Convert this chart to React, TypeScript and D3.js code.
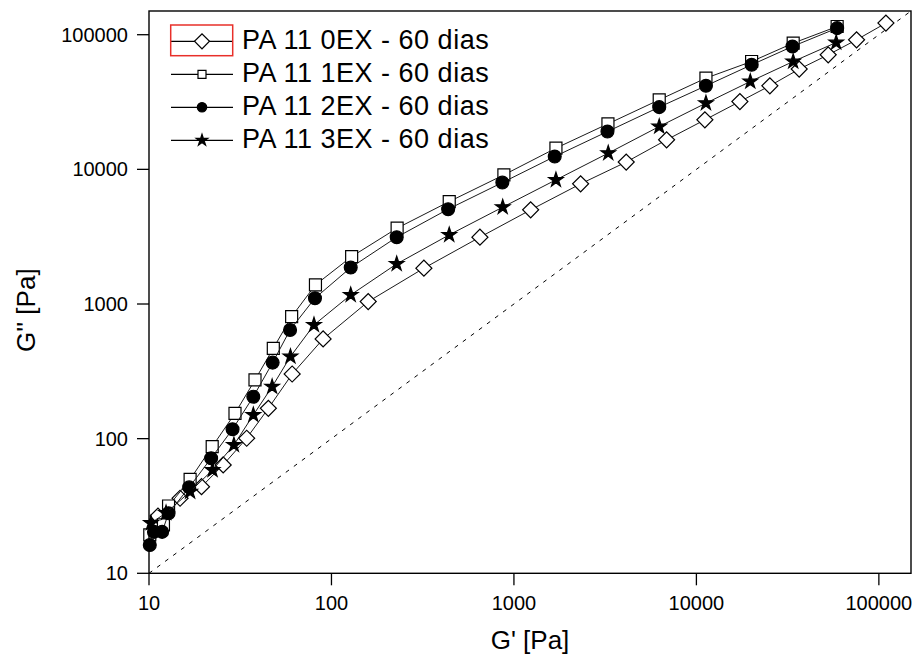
import React from 'react';
import * as d3 from 'd3';

const tickValues = [10, 100, 1000, 10000, 100000];
const tickLabels = ['10', '100', '1000', '10000', '100000'];
const seriesNames = ['PA 11 0EX - 60 dias', 'PA 11 1EX - 60 dias', 'PA 11 2EX - 60 dias', 'PA 11 3EX - 60 dias'];

// PA 11 0EX (open diamonds)
const gp0 = [11.2, 14.8, 19.4, 25.5, 34.3, 45.1, 60.9, 90.0, 159, 321, 651, 1235, 2320, 4124, 6866, 11130, 17310, 25270, 36590, 52760, 75470, 109300];
const gpp0 = [26.6, 36.1, 44.0, 63.8, 100.7, 168, 302, 550, 1042, 1845, 3135, 5003, 7805, 11330, 16570, 23320, 31890, 41730, 55520, 70900, 91650, 122000];
// PA 11 1EX (open squares)
const gp1 = [10.1, 12.0, 12.8, 16.8, 22.2, 29.6, 38.1, 48.0, 60.5, 81.7, 129, 229, 442, 881, 1699, 3275, 6255, 11280, 20070, 33920, 59070];
const gpp1 = [19.3, 22.9, 31.6, 49.9, 87.2, 154, 273, 469, 806, 1387, 2250, 3658, 5765, 9100, 14370, 21780, 32840, 47600, 63230, 86600, 115100];
// PA 11 2EX (filled circles)
const gp2 = [10.1, 10.65, 11.8, 12.8, 16.6, 21.9, 28.7, 37.3, 47.6, 59.3, 81.2, 127.5, 227.8, 436, 864, 1673, 3255, 6257, 11280, 20070, 33600, 59070];
const gpp2 = [16.2, 20.3, 20.3, 27.9, 43.5, 71.5, 117.5, 205, 367, 642, 1105, 1864, 3135, 5063, 7977, 12450, 19090, 28980, 41730, 59760, 81750, 111900];
// PA 11 3EX (filled stars)
const gp3 = [10.25, 12.4, 16.8, 22.3, 29.2, 37.3, 47.3, 59.6, 80.2, 127.5, 227.8, 442, 868, 1699, 3287, 6257, 11280, 19740, 33920, 58360];
const gpp3 = [23.6, 28.1, 40.4, 58.5, 89.8, 150, 243, 407, 699, 1168, 1986, 3262, 5239, 8356, 13190, 20800, 31030, 44920, 63230, 87500];

const FONT = '"Liberation Sans", Arial, sans-serif';

export default function App() {
  const W = 919, H = 660;
  const left = 149, right = 911, top = 11, bottom = 573.3;
  const x = d3.scaleLog().domain([10, 150000]).range([left, right]);
  const y = d3.scaleLog().domain([10, 150000]).range([bottom, top]);

  const series = [
    { name: seriesNames[0], gp: gp0, gpp: gpp0, type: d3.symbolSquare, size: 128, legSize: 112, rot: 45, fill: '#fff' },
    { name: seriesNames[1], gp: gp1, gpp: gpp1, type: d3.symbolSquare, size: 144, legSize: 64, rot: 0, fill: '#fff' },
    { name: seriesNames[2], gp: gp2, gpp: gpp2, type: d3.symbolCircle, size: 130, legSize: 70, rot: 0, fill: '#000' },
    { name: seriesNames[3], gp: gp3, gpp: gpp3, type: d3.symbolStar, size: 66, legSize: 42, rot: 0, fill: '#000' },
  ];

  const line = d3.line<[number, number]>().x(d => x(d[0])).y(d => y(d[1]));

  return (
    <svg width={W} height={H} style={{ position: 'absolute', left: 0, top: 0, background: '#fff' }}
      fontFamily={FONT}>
      <rect x={0} y={0} width={W} height={H} fill="#fff" />
      {/* diagonal y = x */}
      <line x1={x(10)} y1={y(10)} x2={x(150000)} y2={y(150000)} stroke="#000" strokeWidth={1} strokeDasharray="4 6" />
      {series.map((s, i) => {
        const pts = s.gp.map((g, k) => [g, s.gpp[k]] as [number, number]);
        const sym = d3.symbol(s.type, s.size)();
        return (
          <g key={i}>
            <path d={line(pts) || ''} fill="none" stroke="#1a1a1a" strokeWidth={1} />
            {pts.map((p, k) => (
              <path key={k} d={sym || ''} transform={`translate(${x(p[0])},${y(p[1])}) rotate(${s.rot})`}
                fill={s.fill} stroke="#000" strokeWidth={1.2} />
            ))}
          </g>
        );
      })}
      {/* frame */}
      <rect x={left} y={top} width={right - left} height={bottom - top} fill="none" stroke="#000" strokeWidth={1.4} />
      {/* x ticks */}
      {tickValues.map((t, i) => (
        <g key={'x' + i}>
          <line x1={x(t)} x2={x(t)} y1={bottom} y2={bottom + 12} stroke="#000" strokeWidth={1.3} />
          <text x={x(t)} y={610} textAnchor="middle" fontSize={20} fill="#000">{tickLabels[i]}</text>
        </g>
      ))}
      {/* y ticks */}
      {tickValues.map((t, i) => (
        <g key={'y' + i}>
          <line x1={left - 12} x2={left} y1={y(t)} y2={y(t)} stroke="#000" strokeWidth={1.3} />
          <text x={128} y={y(t) + 7} textAnchor="end" fontSize={20} fill="#000">{tickLabels[i]}</text>
        </g>
      ))}
      {/* axis titles */}
      <text x={(left + right) / 2} y={649} textAnchor="middle" fontSize={26} fill="#000">G' [Pa]</text>
      <text transform={`translate(34.5,352) rotate(-90)`} textAnchor="start" fontSize={26} fill="#000">G'' [Pa]</text>
      {/* legend */}
      {series.map((s, i) => {
        const base = 49.3 + i * 33;
        const cy = base - 8;
        const sym = d3.symbol(s.type, s.legSize)();
        return (
          <g key={'l' + i}>
            <line x1={171} x2={233} y1={cy} y2={cy} stroke="#000" strokeWidth={1.2} />
            <path d={sym || ''} transform={`translate(202,${cy}) rotate(${s.rot})`} fill={s.fill} stroke="#000" strokeWidth={1.2} />
            <text x={242} y={base} fontSize={27} letterSpacing={0.5} fill="#000">{s.name}</text>
          </g>
        );
      })}
      <rect x={170.7} y={25} width={62} height={30.7} fill="none" stroke="#e8302a" strokeWidth={1.5} />
    </svg>
  );
}
